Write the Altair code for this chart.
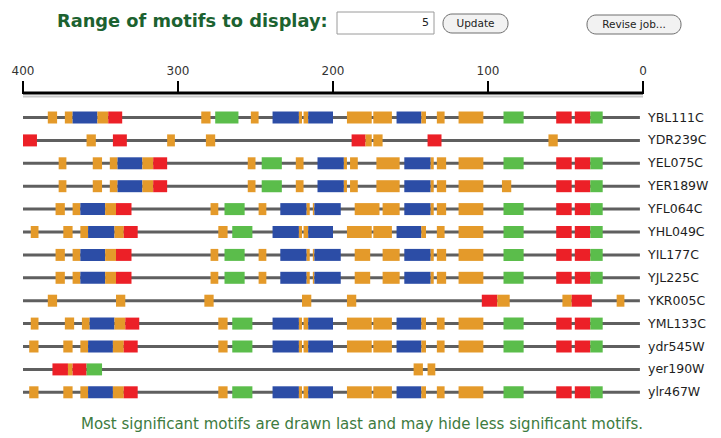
import altair as alt
import pandas as pd

# ---------------- data ----------------
sequences = ["YBL111C", "YDR239C", "YEL075C", "YER189W", "YFL064C", "YHL049C",
             "YIL177C", "YJL225C", "YKR005C", "YML133C", "ydr545W", "yer190W", "ylr467W"]
seq_from = [400] * 13
seq_to = [2] * 13
axis_ticks = [400, 300, 200, 100, 0]

motif_ids = ["B", "R", "G", "O"]

# (motif, left position, right position)
ybl111c = [("O", 384, 378), ("O", 373, 368), ("B", 368, 352), ("O", 352, 345), ("R", 345, 336),
           ("O", 285, 279), ("G", 276, 261), ("O", 253, 248), ("B", 239, 222), ("O", 222, 220),
           ("O", 219, 216), ("B", 216, 200), ("O", 191, 175), ("O", 174, 162), ("B", 159, 143),
           ("O", 143, 140), ("O", 133, 128), ("O", 119, 103), ("G", 90, 77), ("R", 56, 46),
           ("R", 44, 34), ("G", 34, 26)]
ydr239c = [("R", 400, 391), ("O", 359, 353), ("R", 342, 333), ("O", 307, 302), ("O", 282, 276),
           ("R", 188, 179), ("O", 179, 175), ("O", 174, 168), ("R", 139, 130), ("O", 61, 55)]
yel075c = [("O", 377, 372), ("O", 355, 349), ("O", 344, 339), ("B", 339, 323), ("O", 323, 316),
           ("R", 316, 307), ("O", 255, 250), ("G", 246, 233), ("O", 224, 219), ("B", 210, 193),
           ("O", 193, 191), ("O", 189, 184), ("O", 172, 157), ("B", 154, 137), ("O", 137, 135),
           ("O", 133, 127), ("O", 119, 103), ("G", 90, 77), ("R", 56, 46), ("R", 44, 34),
           ("G", 34, 26)]
yer189w = [("O", 377, 372), ("O", 355, 349), ("O", 344, 339), ("B", 339, 323), ("O", 323, 316),
           ("R", 316, 307), ("O", 255, 250), ("G", 246, 233), ("O", 224, 219), ("B", 210, 193),
           ("O", 193, 191), ("O", 189, 184), ("O", 172, 157), ("B", 154, 137), ("O", 137, 135),
           ("O", 133, 127), ("O", 119, 103), ("O", 91, 85), ("R", 56, 46), ("R", 44, 34),
           ("G", 34, 26)]
yfl064c = [("O", 379, 373), ("O", 368, 363), ("B", 363, 347), ("O", 347, 340), ("R", 340, 330),
           ("O", 279, 274), ("G", 270, 257), ("O", 248, 243), ("B", 234, 217), ("O", 217, 215),
           ("O", 213, 212), ("B", 212, 195), ("O", 186, 170), ("O", 168, 157), ("B", 154, 137),
           ("O", 137, 135), ("O", 133, 127), ("O", 119, 103), ("G", 90, 77), ("R", 56, 46),
           ("R", 44, 34), ("G", 34, 26)]
yhl049c = [("O", 395, 390), ("O", 374, 368), ("O", 363, 358), ("B", 358, 341), ("O", 341, 335),
           ("R", 335, 326), ("O", 274, 268), ("G", 265, 252), ("B", 239, 222), ("O", 222, 220),
           ("O", 219, 216), ("B", 216, 200), ("O", 191, 175), ("O", 174, 162), ("B", 159, 143),
           ("O", 143, 140), ("O", 133, 128), ("O", 119, 103), ("G", 90, 77), ("R", 56, 46),
           ("R", 44, 34), ("G", 34, 26)]
yil177c = [("O", 379, 373), ("O", 368, 363), ("B", 363, 347), ("O", 347, 340), ("R", 340, 330),
           ("O", 279, 274), ("G", 270, 257), ("O", 248, 243), ("B", 234, 217), ("O", 217, 215),
           ("O", 213, 212), ("B", 212, 195), ("O", 186, 176), ("O", 168, 157), ("B", 154, 137),
           ("O", 137, 135), ("O", 133, 127), ("O", 119, 103), ("G", 90, 77), ("R", 56, 46),
           ("R", 44, 34), ("G", 34, 26)]
yjl225c = [("O", 379, 373), ("O", 368, 363), ("B", 363, 347), ("O", 347, 340), ("R", 340, 330),
           ("O", 279, 274), ("G", 270, 257), ("O", 248, 243), ("B", 234, 217), ("O", 217, 215),
           ("O", 213, 212), ("B", 212, 195), ("O", 186, 176), ("O", 168, 157), ("B", 154, 137),
           ("O", 137, 135), ("O", 133, 127), ("O", 119, 103), ("G", 90, 77), ("R", 56, 46),
           ("R", 44, 34), ("G", 34, 26)]
ykr005c = [("O", 384, 378), ("O", 340, 334), ("O", 283, 277), ("O", 220, 214), ("O", 191, 185),
           ("R", 104, 94), ("O", 94, 86), ("O", 52, 46), ("R", 46, 33), ("O", 17, 12)]
yml133c = [("O", 395, 390), ("O", 373, 367), ("O", 362, 357), ("B", 357, 341), ("O", 341, 334),
           ("R", 334, 325), ("O", 274, 268), ("G", 265, 252), ("B", 239, 222), ("O", 222, 220),
           ("O", 219, 216), ("B", 216, 200), ("O", 191, 175), ("O", 174, 162), ("B", 159, 143),
           ("O", 143, 140), ("O", 133, 128), ("O", 119, 103), ("G", 90, 77), ("R", 56, 46),
           ("R", 44, 34), ("G", 34, 26)]
ydr545w = [("O", 396, 390), ("O", 374, 368), ("O", 363, 358), ("B", 358, 342), ("O", 342, 335),
           ("R", 335, 326), ("O", 274, 268), ("G", 265, 252), ("B", 239, 222), ("O", 222, 220),
           ("O", 219, 216), ("B", 216, 200), ("O", 191, 175), ("O", 174, 162), ("B", 159, 143),
           ("O", 143, 140), ("O", 133, 128), ("O", 119, 103), ("G", 90, 77), ("R", 56, 46),
           ("R", 44, 34), ("G", 34, 26)]
yer190w = [("R", 381, 371), ("O", 371, 368), ("R", 368, 359), ("G", 359, 349),
           ("O", 148, 142), ("O", 139, 134)]
ylr467w = [("O", 396, 390), ("O", 374, 368), ("O", 363, 358), ("B", 358, 342), ("O", 342, 335),
           ("R", 335, 326), ("O", 274, 268), ("G", 265, 252), ("B", 239, 222), ("O", 222, 220),
           ("O", 219, 216), ("B", 216, 200), ("O", 191, 175), ("O", 174, 162), ("B", 159, 143),
           ("O", 143, 140), ("O", 133, 128), ("O", 119, 103), ("G", 90, 77), ("R", 56, 46),
           ("R", 44, 34), ("G", 34, 26)]

rows = [ybl111c, ydr239c, yel075c, yer189w, yfl064c, yhl049c, yil177c, yjl225c,
        ykr005c, yml133c, ydr545w, yer190w, ylr467w]

header_text = "Range of motifs to display:"
field_value = "5"
button_update = "Update"
button_revise = "Revise job..."
footer_text = "Most significant motifs are drawn last and may hide less significant motifs."

# ---------------- tables ----------------
recs = []
for i, (name, motifs) in enumerate(zip(sequences, rows)):
    for m, a, b in motifs:
        recs.append(dict(seq=name, row=i, motif=m, left=a, right=b))
boxes = pd.DataFrame(recs)
lines = pd.DataFrame(dict(seq=sequences, row=list(range(len(sequences))),
                          left=seq_from, right=seq_to))
ticks = pd.DataFrame(dict(tick=axis_ticks))
one = pd.DataFrame({"k": [0]})

motif_colors = ["#2C4DA6", "#EC2027", "#5BBD4B", "#E49A2A"]

xs = alt.Scale(domain=[400, 0], range=[15, 635])
ys = alt.Scale(domain=[0, 12], range=[109.5, 384.3])

FONT = "DejaVu Sans"

# ----- position axis (drawn at the top, as in the reference) -----
axis_shadow = alt.Chart(ticks).mark_rule(color="#c8c8c8", strokeWidth=2).encode(
    x=alt.X("min(tick):Q", scale=xs, axis=None), x2="max(tick):Q", y=alt.value(88.5))
axis_line = alt.Chart(ticks).mark_rule(color="black", strokeWidth=3).encode(
    x=alt.X("min(tick):Q", scale=xs, axis=None), x2="max(tick):Q", y=alt.value(85))
axis_tick_marks = alt.Chart(ticks).mark_rule(color="black", strokeWidth=2).encode(
    x=alt.X("tick:Q", scale=xs, axis=None), y=alt.value(73), y2=alt.value(86))
axis_labels = alt.Chart(ticks).mark_text(align="center", baseline="middle", font=FONT,
                                         fontSize=12, color="#333333").encode(
    x=alt.X("tick:Q", scale=xs, axis=None), y=alt.value(63), text="tick:Q")

seq_lines = alt.Chart(lines).mark_rule(color="#5f5f5f", strokeWidth=3).encode(
    x=alt.X("left:Q", scale=xs, axis=None),
    x2="right:Q",
    y=alt.Y("row:Q", scale=ys, axis=None),
)

motif_boxes = alt.Chart(boxes).transform_calculate(
    y0="datum.row - 0.262", y1="datum.row + 0.262"
).mark_rect().encode(
    x=alt.X("left:Q", scale=xs, axis=None),
    x2="right:Q",
    y=alt.Y("y0:Q", scale=ys, axis=None),
    y2="y1:Q",
    color=alt.Color("motif:N", scale=alt.Scale(domain=motif_ids, range=motif_colors),
                    legend=None),
)

seq_labels = alt.Chart(lines).mark_text(align="left", baseline="middle", font=FONT,
                                        fontSize=12.5, color="#1e1e1e").encode(
    x=alt.value(640),
    y=alt.Y("row:Q", scale=ys, axis=None),
    text="seq:N",
)

header = alt.Chart(one).mark_text(align="left", baseline="middle", font=FONT,
                                  fontSize=17.8, fontWeight="bold", color="#1c6230").encode(
    x=alt.value(49), y=alt.value(14), text=alt.value(header_text))

field_box = alt.Chart(one).mark_rect(fill="white", stroke="#9a9a9a", strokeWidth=1).encode(
    x=alt.value(329), x2=alt.value(426), y=alt.value(4), y2=alt.value(26))
field_txt = alt.Chart(one).mark_text(align="right", baseline="middle", font=FONT,
                                     fontSize=11, color="#222").encode(
    x=alt.value(421), y=alt.value(15), text=alt.value(field_value))

upd_btn = alt.Chart(one).mark_rect(fill="#f2f2f2", stroke="#6e6e6e", strokeWidth=1,
                                   cornerRadius=9).encode(
    x=alt.value(435), x2=alt.value(500), y=alt.value(6), y2=alt.value(25))
upd_txt = alt.Chart(one).mark_text(align="center", baseline="middle", font=FONT,
                                   fontSize=10.5, color="#222").encode(
    x=alt.value(467.5), y=alt.value(15.5), text=alt.value(button_update))

rev_btn = alt.Chart(one).mark_rect(fill="#f2f2f2", stroke="#6e6e6e", strokeWidth=1,
                                   cornerRadius=9).encode(
    x=alt.value(579), x2=alt.value(673), y=alt.value(7), y2=alt.value(26))
rev_txt = alt.Chart(one).mark_text(align="center", baseline="middle", font=FONT,
                                   fontSize=10.5, color="#222").encode(
    x=alt.value(626), y=alt.value(16.5), text=alt.value(button_revise))

footer = alt.Chart(one).mark_text(align="center", baseline="middle", font=FONT,
                                  fontSize=15, color="#3d7b40").encode(
    x=alt.value(354), y=alt.value(416), text=alt.value(footer_text))

chart = alt.layer(
    axis_shadow, axis_line, axis_tick_marks, axis_labels,
    seq_lines, motif_boxes, seq_labels, header, field_box, field_txt,
    upd_btn, upd_txt, rev_btn, rev_txt, footer
).properties(
    width=705, height=428, autosize=alt.AutoSizeParams(type="none"),
    padding=0, background="white"
).configure_view(stroke=None)

chart.save("out.html", embed_options={"renderer": "svg", "actions": False})
